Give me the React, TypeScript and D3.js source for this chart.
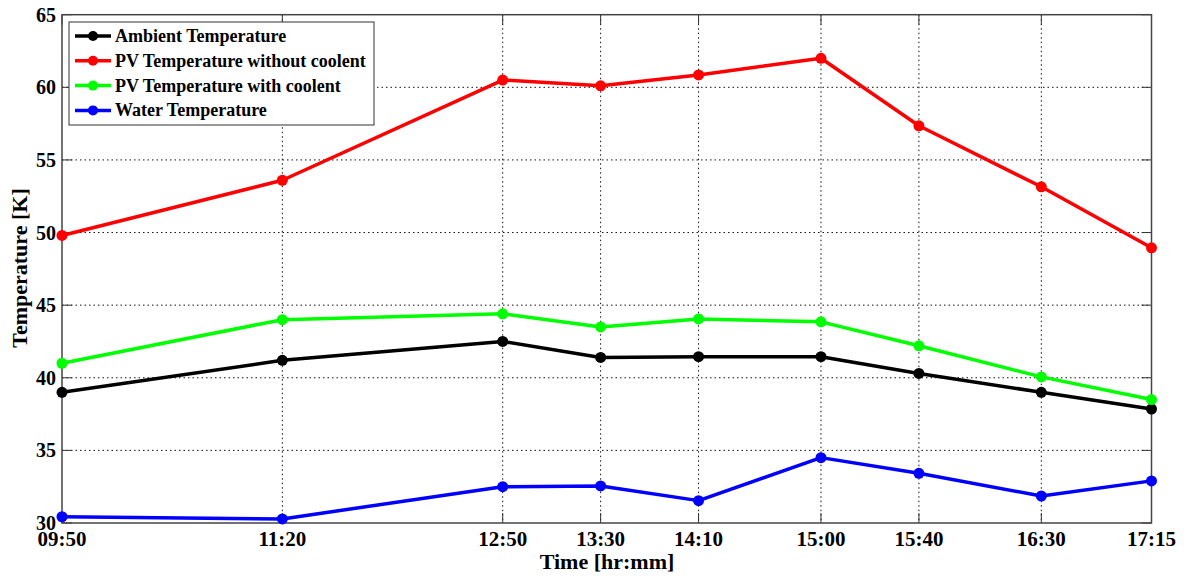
import React from "react";
import * as d3 from "d3";

const times = ["09:50", "11:20", "12:50", "13:30", "14:10", "15:00", "15:40", "16:30", "17:15"];
const ambient = [39.0, 41.2, 42.5, 41.4, 41.45, 41.45, 40.3, 39.0, 37.85];
const pvNoCool = [49.8, 53.6, 60.5, 60.1, 60.85, 62.0, 57.35, 53.15, 48.95];
const pvCool = [41.0, 44.0, 44.4, 43.5, 44.05, 43.85, 42.2, 40.06, 38.5];
const water = [30.43, 30.28, 32.5, 32.55, 31.54, 34.5, 33.42, 31.86, 32.9];
const yTicks = [30, 35, 40, 45, 50, 55, 60, 65];
const seriesNames = [
  "Ambient Temperature",
  "PV Temperature without coolent",
  "PV Temperature with coolent",
  "Water Temperature",
];
const seriesColors = ["#000000", "#ff0000", "#00ff00", "#0000ff"];

const W = 1192;
const H = 576;
const L = 62, R = 1151.5, T = 14.7, B = 523;
const FONT = "'Liberation Serif', 'Times New Roman', serif";

function toMin(t: string) {
  const [h, m] = t.split(":").map(Number);
  return h * 60 + m;
}

export default function App() {
  const x = d3.scaleLinear().domain([toMin(times[0]), toMin(times[times.length - 1])]).range([L, R]);
  const y = d3.scaleLinear().domain([30, 65]).range([B, T]);
  const allSeries = [ambient, pvNoCool, pvCool, water];
  const line = d3
    .line<number>()
    .x((_, i) => x(toMin(times[i])))
    .y((d) => y(d));

  return (
    <svg width={W} height={H} style={{ position: "absolute", left: 0, top: 0, background: "#fff" }}>
      <rect x={0} y={0} width={W} height={H} fill="#fff" />
      {/* grid */}
      {yTicks.slice(1, -1).map((v) => (
        <line key={"gy" + v} x1={L} x2={R} y1={y(v)} y2={y(v)} stroke="#111" strokeWidth={1} strokeDasharray="1.5,3" />
      ))}
      {times.slice(1, -1).map((t) => (
        <line key={"gx" + t} x1={x(toMin(t))} x2={x(toMin(t))} y1={T} y2={B} stroke="#111" strokeWidth={1} strokeDasharray="1.5,3" />
      ))}
      {/* ticks */}
      {yTicks.map((v) => (
        <g key={"ty" + v}>
          <line x1={L} x2={L + 10} y1={y(v)} y2={y(v)} stroke="#333" strokeWidth={1} />
          <line x1={R} x2={R - 10} y1={y(v)} y2={y(v)} stroke="#333" strokeWidth={1} />
        </g>
      ))}
      {times.map((t) => (
        <g key={"tx" + t}>
          <line x1={x(toMin(t))} x2={x(toMin(t))} y1={B} y2={B - 10} stroke="#333" strokeWidth={1} />
          <line x1={x(toMin(t))} x2={x(toMin(t))} y1={T} y2={T + 10} stroke="#333" strokeWidth={1} />
        </g>
      ))}
      {/* box */}
      <rect x={L} y={T} width={R - L} height={B - T} fill="none" stroke="#444" strokeWidth={1.5} />
      {/* series */}
      {allSeries.map((s, si) => (
        <g key={"s" + si}>
          <path d={line(s) || ""} fill="none" stroke={seriesColors[si]} strokeWidth={3.5} strokeLinejoin="round" />
          {s.map((v, i) => (
            <circle key={i} cx={x(toMin(times[i]))} cy={y(v)} r={5.5} fill={seriesColors[si]} />
          ))}
        </g>
      ))}
      {/* y labels */}
      {yTicks.map((v) => (
        <text key={"ly" + v} x={L - 6} y={y(v) + 7} textAnchor="end" fontFamily={FONT} fontWeight="bold" fontSize={20} fill="#000">
          {v}
        </text>
      ))}
      {times.map((t) => (
        <text key={"lx" + t} x={x(toMin(t))} y={546} textAnchor="middle" fontFamily={FONT} fontWeight="bold" fontSize={21} fill="#000">
          {t}
        </text>
      ))}
      <text x={607} y={569} textAnchor="middle" fontFamily={FONT} fontWeight="bold" fontSize={22} fill="#000">
        Time [hr:mm]
      </text>
      <text transform={`translate(27,268) rotate(-90)`} textAnchor="middle" fontFamily={FONT} fontWeight="bold" fontSize={22} fill="#000">
        Temperature [K]
      </text>
      {/* legend */}
      <rect x={69} y={22} width={305} height={103} fill="#fff" stroke="#333" strokeWidth={1} />
      {seriesNames.map((n, i) => (
        <g key={"lg" + i}>
          <line x1={75} x2={111} y1={36 + i * 24.8} y2={36 + i * 24.8} stroke={seriesColors[i]} strokeWidth={3.5} />
          <circle cx={93} cy={36 + i * 24.8} r={5} fill={seriesColors[i]} />
          <text x={115} y={42 + i * 24.8} fontFamily={FONT} fontWeight="bold" fontSize={18} fill="#000">
            {n}
          </text>
        </g>
      ))}
    </svg>
  );
}
